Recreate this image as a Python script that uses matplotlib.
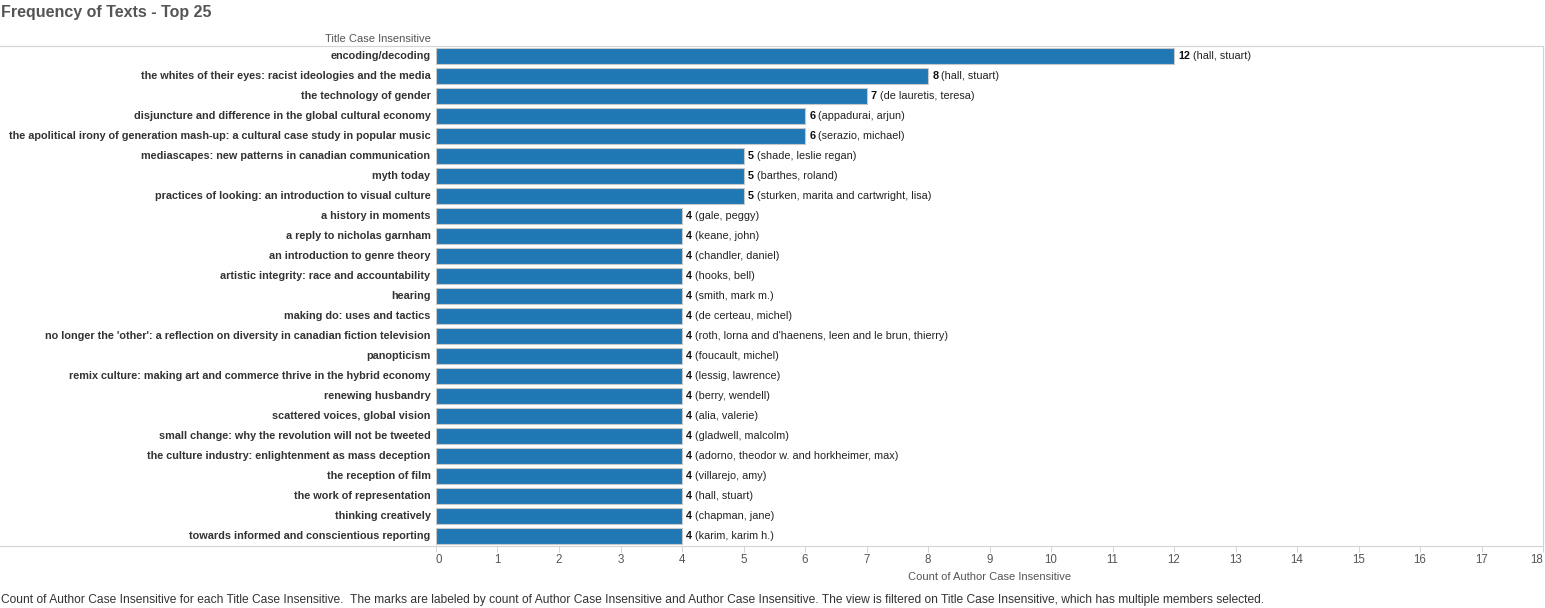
import matplotlib
matplotlib.use("Agg")
import matplotlib.pyplot as plt
from matplotlib.lines import Line2D

titles = [
    "encoding/decoding",
    "the whites of their eyes: racist ideologies and the media",
    "the technology of gender",
    "disjuncture and difference in the global cultural economy",
    "the apolitical irony of generation mash-up: a cultural case study in popular music",
    "mediascapes: new patterns in canadian communication",
    "myth today",
    "practices of looking: an introduction to visual culture",
    "a history in moments",
    "a reply to nicholas garnham",
    "an introduction to genre theory",
    "artistic integrity: race and accountability",
    "hearing",
    "making do: uses and tactics",
    "no longer the 'other': a reflection on diversity in canadian fiction television",
    "panopticism",
    "remix culture: making art and commerce thrive in the hybrid economy",
    "renewing husbandry",
    "scattered voices, global vision",
    "small change: why the revolution will not be tweeted",
    "the culture industry: enlightenment as mass deception",
    "the reception of film",
    "the work of representation",
    "thinking creatively",
    "towards informed and conscientious reporting",
]
counts = [12, 8, 7, 6, 6, 5, 5, 5, 4, 4, 4, 4, 4, 4, 4, 4, 4, 4, 4, 4, 4, 4, 4, 4, 4]
authors = [
    "hall, stuart",
    "hall, stuart",
    "de lauretis, teresa",
    "appadurai, arjun",
    "serazio, michael",
    "shade, leslie regan",
    "barthes, roland",
    "sturken, marita and cartwright, lisa",
    "gale, peggy",
    "keane, john",
    "chandler, daniel",
    "hooks, bell",
    "smith, mark m.",
    "de certeau, michel",
    "roth, lorna and d'haenens, leen and le brun, thierry",
    "foucault, michel",
    "lessig, lawrence",
    "berry, wendell",
    "alia, valerie",
    "gladwell, malcolm",
    "adorno, theodor w. and horkheimer, max",
    "villarejo, amy",
    "hall, stuart",
    "chapman, jane",
    "karim, karim h.",
]
xticks = list(range(0, 19))

plt.rcParams['font.family'] = ['Liberation Sans', 'DejaVu Sans']

W, H = 1545, 608
fig = plt.figure(figsize=(W / 100, H / 100), dpi=100)
x0, x1, ytop, ybot = 436, 1543, 46, 546
ax = fig.add_axes([x0 / W, 1 - ybot / H, (x1 - x0) / W, (ybot - ytop) / H])

ypos = list(range(len(titles)))
ax.barh(ypos, counts, height=0.8, color="#1f77b4", edgecolor="#c8c8c8", linewidth=0.8)
ax.set_ylim(len(titles) - 0.5, -0.5)
ax.set_xlim(0, 18)
ax.set_xticks(xticks)
ax.set_xticklabels([str(t) for t in xticks], fontsize=8.3, color="#555555")
labs = ax.get_xticklabels()
labs[0].set_horizontalalignment('left')
labs[-1].set_horizontalalignment('right')
ax.tick_params(axis='x', length=4, width=0.6, color="#cccccc", pad=2)
ax.set_yticks([])
for s in ['left', 'top']:
    ax.spines[s].set_visible(False)
ax.spines['right'].set_color("#d4d4d4")
ax.spines['bottom'].set_color("#d4d4d4")
ax.spines['right'].set_linewidth(0.8)
ax.spines['bottom'].set_linewidth(0.8)

ax.set_xlabel("Count of Author Case Insensitive", fontsize=8, color="#555555", labelpad=4)

# row labels
for y, t in zip(ypos, titles):
    ax.annotate(t, xy=(0, y), xycoords=('axes fraction', 'data'), xytext=(-4, 0),
                textcoords='offset points', ha='right', va='center', fontsize=7.85,
                fontweight='bold', color="#333333")

# bar value labels
for y, c, a in zip(ypos, counts, authors):
    t1 = ax.annotate(str(c), xy=(c, y), xytext=(3, 0), textcoords='offset points',
                     ha='left', va='center', fontsize=7.8, fontweight='bold', color="#111111")
    ax.annotate(" (" + a + ")", xy=(1, 0.5), xycoords=t1, ha='left', va='center',
                fontsize=7.8, color="#222222")

# frame lines spanning full width
fig.add_artist(Line2D([0, x1 / W], [1 - ytop / H, 1 - ytop / H], color="#d4d4d4", lw=0.8))
fig.add_artist(Line2D([0, x0 / W], [1 - ybot / H, 1 - ybot / H], color="#d4d4d4", lw=0.8))

fig.text(431 / W, 1 - 39 / H, "Title Case Insensitive", ha='right', va='center',
         fontsize=8, color="#555555")
fig.text(1 / W, 1 - 12 / H, "Frequency of Texts - Top 25", ha='left', va='center',
         fontsize=11.5, fontweight='bold', color="#555555")
fig.text(1 / W, 1 - 600 / H,
         "Count of Author Case Insensitive for each Title Case Insensitive.  The marks are labeled by count of Author Case Insensitive and Author Case Insensitive. The view is filtered on Title Case Insensitive, which has multiple members selected.",
         ha='left', va='center', fontsize=8.65, color="#333333")

fig.savefig("out.png", dpi=100)
